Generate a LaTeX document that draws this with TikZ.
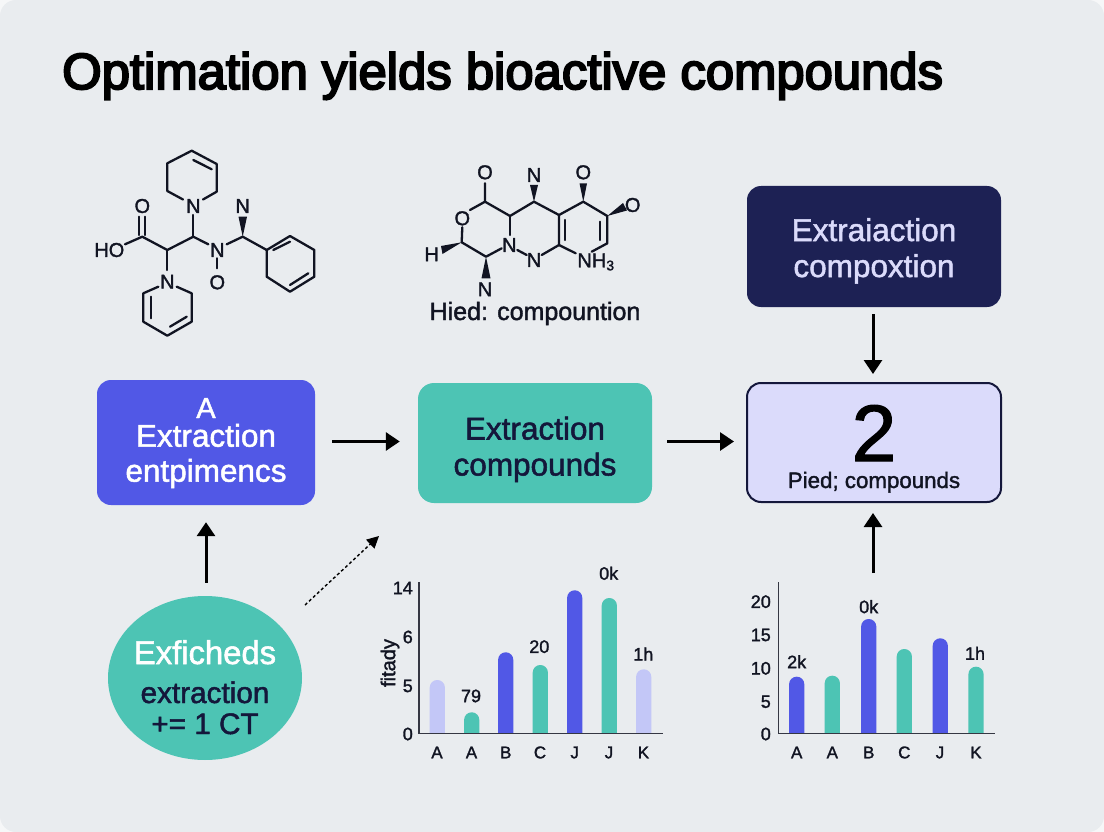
\documentclass[tikz,border=0pt]{standalone}
\usepackage{fontspec}
\setmainfont{Liberation Sans}[FakeBold=1.6]
\newfontfamily\titlefont{Liberation Sans}[FakeBold=4]
\usetikzlibrary{
    positioning,
    shapes.geometric,
    arrows.meta,
    calc
}
\definecolor{pagebg}{RGB}{233, 236, 239}
\definecolor{pagecorner}{RGB}{246, 247, 248}
\definecolor{indigo}{RGB}{81, 88, 230}
\definecolor{mint}{RGB}{77, 196, 180}
\definecolor{lilac}{RGB}{195, 199, 247}
\definecolor{navy}{RGB}{29, 33, 84}
\definecolor{pale}{RGB}{219, 219, 251}
\definecolor{ink}{RGB}{17, 20, 34}

\begin{document}
\begin{tikzpicture}[
    x=1pt, y=-1pt,
    block/.style={rectangle, fill=#1, rounded corners=14pt, align=center, inner sep=0pt},
    label/.style={font=\fontsize{#1}{#1}\selectfont, text=ink, inner sep=0pt},
    line/.style={label=#1, anchor=base},
    arrow/.style={-{Triangle[length=14pt,width=18pt]}, line width=3pt, black},
    bond/.style={line width=2.3pt, ink, line cap=round, line join=round},
    axis/.style={line width=1.6pt, ink!85}
]

\useasboundingbox (0,0) rectangle (1104,832);
\fill[pagecorner] (0,0) rectangle (1104,832);
\fill[pagebg, rounded corners=16pt] (0,0) rectangle (1104,832);

% Title
\node[font=\fontsize{50.8}{52}\selectfont\titlefont, text=black, inner sep=0pt, anchor=base west] (title) at (62, 89) {Optimation yields bioactive compounds};

% ============================================
% LEFT MOLECULE
% ============================================
\draw[bond] (193.3,215) -- (193.3,236.7);
\draw[bond] (125,244.3) -- (142.3,236.7) -- (167.3,250) -- (193.3,236.7) -- (208.3,244.3);
\draw[bond] (139.3,216.7) -- (139.3,235);
\draw[bond] (145.3,216.7) -- (145.3,235);
\draw[bond] (167.3,250) -- (167.3,270);
\draw[bond] (203,199.5) -- (216.7,191.7) -- (216.7,164) -- (191.7,150.7) -- (167.3,163.3) -- (167.3,191) -- (183,199.5);
\draw[bond] (193.3,160) -- (211.7,169.3);
\draw[bond] (158.3,286.7) -- (143.3,293.3) -- (143.3,321.7) -- (167.3,335.7) -- (191.7,321.7) -- (191.7,293.3) -- (176.7,286.7);
\draw[bond] (151,296.7) -- (151,318.3);
\draw[bond] (170,326.7) -- (186.7,316.7);
\draw[bond] (217.3,258.3) -- (217.3,268.3);
\draw[bond] (226.7,244.3) -- (242.7,236.7) -- (266.7,250);
\draw[bond] (266.7,250) -- (290,236) -- (314.3,250) -- (314.3,276.7) -- (290,291.7) -- (266.7,276.7) -- cycle;
\draw[bond] (273.3,250) -- (290,241.7);
\draw[bond] (290,285) -- (308.3,273.3);
\fill[ink] (242.7,236.7) -- (238.5,216.7) -- (247,216.7) -- cycle;

\foreach \x/\y/\atom in {142.3/206/O, 193.3/206/N, 242.7/206/N, 167.3/281.7/N, 217.3/250/N, 217.3/282.3/O, 109.3/250/HO} {
    \node[label=20] (a\atom\x) at (\x, \y) {\atom};
}

% ============================================
% MIDDLE MOLECULE
% ============================================
\draw[bond] (485,183.3) -- (485,201.7) -- (510,216) -- (534,201.7) -- (559,215) -- (583.3,201.7) -- (607.3,216) -- (607.3,243.3) -- (591.7,251.7);
\draw[bond] (485,201.7) -- (470,210);
\draw[bond] (462.3,227.3) -- (461.7,242.3) -- (486,256.7) -- (501.7,248.3);
\draw[bond] (510,216) -- (510,235);
\draw[bond] (517.3,250) -- (526.7,255);
\draw[bond] (541.7,255) -- (559,245) -- (559,215);
\draw[bond] (565.3,220) -- (565.3,240);
\draw[bond] (600,221.7) -- (600,240);
\draw[bond] (559,245) -- (575.7,253.3);
\fill[ink] (534,201.7) -- (530,185) -- (538,185) -- cycle;
\fill[ink] (583.3,201.7) -- (579.5,183.3) -- (587,183.3) -- cycle;
\fill[ink] (607.3,216) -- (623,203) -- (627,210.5) -- cycle;
\fill[ink] (461.7,242.3) -- (441,246) -- (442.5,254) -- cycle;
\fill[ink] (486,256.7) -- (481.5,278.3) -- (490.5,278.3) -- cycle;

\foreach \x/\y/\atom in {485/172.3/O, 534/175/N, 583.3/172.3/O, 632.7/205/O, 462.3/218.3/O, 509.3/245/N, 534/260/N, 431.7/254.3/H, 485/289.3/N} {
    \node[label=20] (b\atom\x) at (\x, \y) {\atom};
}
\node[label=20] (nh) at (596, 262) {NH\textsubscript{3}};
\node[line=25] (caption) at (535, 320) {Hied: compountion};

% ============================================
% BLOCKS
% ============================================
\node[block=indigo, minimum width=218pt, minimum height=125pt] (extract) at (206, 442.5) {};
\node[line=29, text=white] (extractA) at (206, 418) {A};
\node[line=31.5, text=white] (extractB) at (206, 446.7) {Extraction};
\node[line=31.5, text=white] (extractC) at (206, 481.7) {entpimencs};

\node[block=mint, minimum width=234pt, minimum height=120pt, rounded corners=16pt] (compounds) at (535, 443) {};
\node[line=31.5, text=navy!70!black] (compoundsA) at (535, 439.5) {Extraction};
\node[line=31.5, text=navy!70!black] (compoundsB) at (535, 475.5) {compounds};

\node[block=navy, minimum width=254pt, minimum height=121pt] (dark) at (874, 246.5) {};
\node[line=31.5, text=pale] (darkA) at (874, 241) {Extraiaction};
\node[line=31.5, text=pale] (darkB) at (874, 277) {compoxtion};

\node[block=pale, draw=navy!70!black, line width=2pt, minimum width=254pt, minimum height=119pt] (result) at (874, 442.5) {};
\node[line=80, text=black] (resultA) at (874, 461) {2};
\node[line=22.3] (resultB) at (874, 488) {Pied; compounds};

\node[ellipse, fill=mint, minimum width=194pt, minimum height=164pt, inner sep=0pt] (blob) at (205, 678) {};
\node[line=32.8, text=white] (blobA) at (205, 664) {Exficheds};
\node[line=29.7, text=navy!70!black] (blobB) at (205, 703) {extraction};
\node[line=29.7, text=navy!70!black] (blobC) at (205, 734) {+= 1 CT};

% ============================================
% ARROWS
% ============================================
\coordinate (dotstart) at (305, 605);
\coordinate (dotend) at (379, 536);
\coordinate (charttop) at (873, 573);
\coordinate (midline) at (0, 441.5);
\coordinate (upline) at (206, 0);

\draw[arrow, shorten <=17pt, shorten >=18pt] (extract.east |- midline) -- (compounds.west |- midline);
\draw[arrow, shorten <=15pt, shorten >=12pt] (compounds.east |- midline) -- (result.west |- midline);
\draw[arrow, shorten <=7pt, shorten >=8pt] (dark.south -| charttop) -- (result.north -| charttop);
\draw[arrow, shorten <=13pt, shorten >=17pt] (blob.north -| upline) -- (extract.south -| upline);
\draw[arrow, shorten >=10pt] (charttop) -- (result.south -| charttop);
\draw[-{Triangle[length=12pt,width=12pt]}, line width=1.4pt, black, dash pattern=on 3pt off 2.5pt] (dotstart) -- (dotend);

% ============================================
% LEFT CHART
% ============================================
\foreach \x/\y/\c in {437.3/680/lilac, 471.7/712.3/mint, 505.7/652.3/indigo, 540.3/665/mint, 574.7/590.3/indigo, 609.3/598/mint, 643.7/669.3/lilac} {
    \fill[\c] (\x-7.6, 733) [rounded corners=7.5pt] -- (\x-7.6, \y) -- (\x+7.6, \y) [sharp corners] -- (\x+7.6, 733) -- cycle;
}
\coordinate (leftorigin) at (419, 733.3);
\draw[axis] (419, 582) -- (leftorigin) -- (662.7, 733.3);

\foreach \y/\t in {588/14, 637/6, 686/5, 734/0} {
    \node[label=18, anchor=east] (ltick\t) at (413, \y) {\t};
}
\foreach \x/\t/\n in {437/A/1, 471.5/A/2, 505.7/B/3, 540/C/4, 574.7/J/5, 609/J/6, 643.5/K/7} {
    \node[label=17] (lx\n) at (\x, 752.5) {\t};
}
\foreach \x/\y/\t in {471/696/79, 539.3/646.7/20, 608.7/573.3/0k, 643.3/654/1h} {
    \node[label=18] (lv\t) at (\x, \y) {\t};
}
\node[label=20, rotate=90] (lname) at (390, 663) {fitady};

% ============================================
% RIGHT CHART
% ============================================
\foreach \x/\y/\c in {796.7/676.7/indigo, 832.3/675.7/mint, 868.7/619/indigo, 904.3/649/mint, 940.3/638.3/indigo, 976/666.7/mint} {
    \fill[\c] (\x-7.6, 733) [rounded corners=7.5pt] -- (\x-7.6, \y) -- (\x+7.6, \y) [sharp corners] -- (\x+7.6, 733) -- cycle;
}
\coordinate (rightorigin) at (778.3, 733.3);
\draw[axis] (778.3, 582.3) -- (rightorigin) -- (995, 733.3);

\foreach \y/\t in {601.7/20, 635/15, 668.3/10, 701.7/5, 734/0} {
    \node[label=18, anchor=east] (rtick\t) at (771, \y) {\t};
}
\foreach \x/\t/\n in {796.7/A/1, 832.3/A/2, 868.7/B/3, 904.3/C/4, 940/J/5, 976/K/6} {
    \node[label=17] (rx\n) at (\x, 752.5) {\t};
}
\foreach \x/\y/\t in {796.7/661.7/2k, 868.7/606.7/0k, 975/653.3/1h} {
    \node[label=18] (rv\t) at (\x, \y) {\t};
}

\end{tikzpicture}
\end{document}
